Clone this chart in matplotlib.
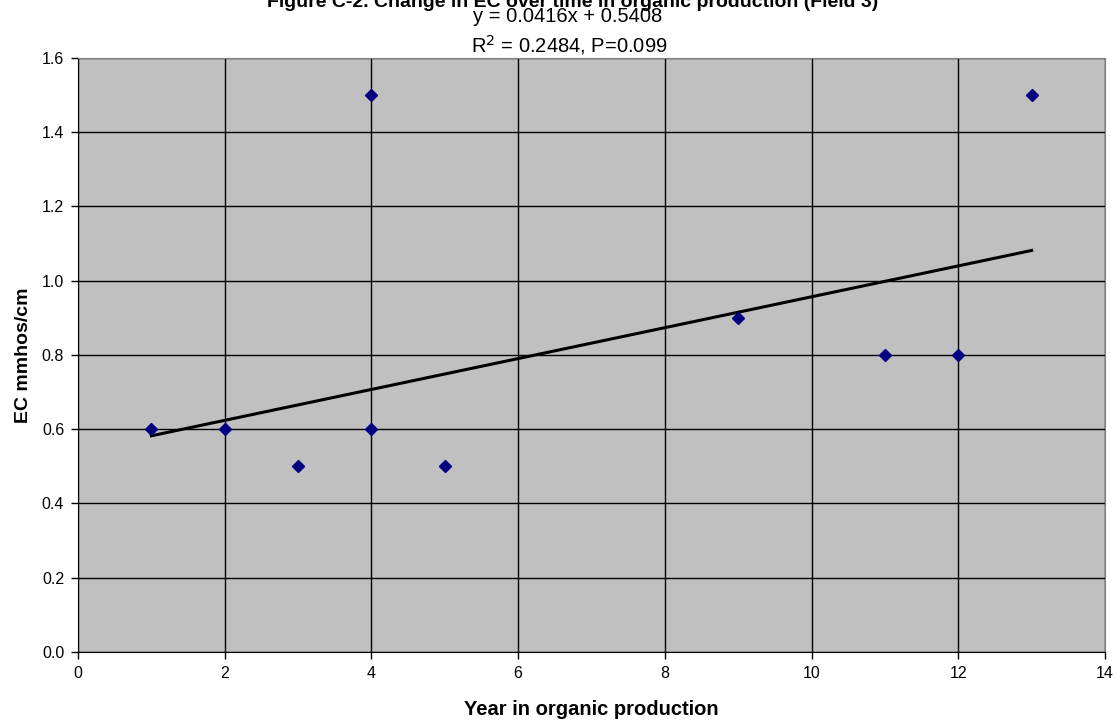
import matplotlib
matplotlib.use("Agg")
import matplotlib.pyplot as plt
import numpy as np

# data
years = [1, 2, 3, 4, 4, 5, 9, 11, 12, 13]
ec = [0.6, 0.6, 0.5, 1.5, 0.6, 0.5, 0.9, 0.8, 0.8, 1.5]
slope = 0.0416
intercept = 0.5408
x_ticks = [0, 2, 4, 6, 8, 10, 12, 14]
y_ticks = [0.0, 0.2, 0.4, 0.6, 0.8, 1.0, 1.2, 1.4, 1.6]

plt.rcParams['font.family'] = ['Liberation Sans', 'DejaVu Sans']

fig = plt.figure(figsize=(11.18, 7.23), dpi=100)
ax = fig.add_axes([0.0698, 0.0982, 0.9186, 0.8216])
ax.set_facecolor('#c0c0c0')

# trend line from the fitted equation
fit_x = np.array([min(years), max(years)])
ax.plot(fit_x, slope * fit_x + intercept, color='black', linewidth=2.2, zorder=3)
ax.plot(years, ec, linestyle='none', marker='D', color='#000080',
        markersize=6, zorder=4)

ax.set_xlim(0, 14)
ax.set_ylim(0, 1.6)
ax.set_xticks(x_ticks)
ax.set_yticks(y_ticks)
ax.set_yticklabels([f'{v:.1f}' for v in y_ticks])
ax.grid(True, color='black', linewidth=1)
ax.set_axisbelow(True)
ax.tick_params(direction='out', length=5, width=1, labelsize=11.5, pad=5)

for side in ['left', 'bottom']:
    ax.spines[side].set_color('black')
for side in ['top', 'right']:
    ax.spines[side].set_color('#808080')

ax.set_xlabel('Year in organic production', fontsize=14.5, fontweight='bold', labelpad=14)
ax.set_ylabel('EC mmhos/cm', fontsize=14, fontweight='bold', labelpad=7)

fig.text(0.512, 0.997, 'Figure C-2. Change in EC over time in organic production (Field 3)',
         ha='center', va='center', fontsize=14, fontweight='bold')
fig.text(0.508, 0.9765, 'y = 0.0416x + 0.5408', ha='center', va='center', fontsize=14.5)
fig.text(0.509, 0.937, 'R$^2$ = 0.2484, P=0.099', ha='center', va='center', fontsize=14.5)

fig.savefig('out.png', dpi=100)
